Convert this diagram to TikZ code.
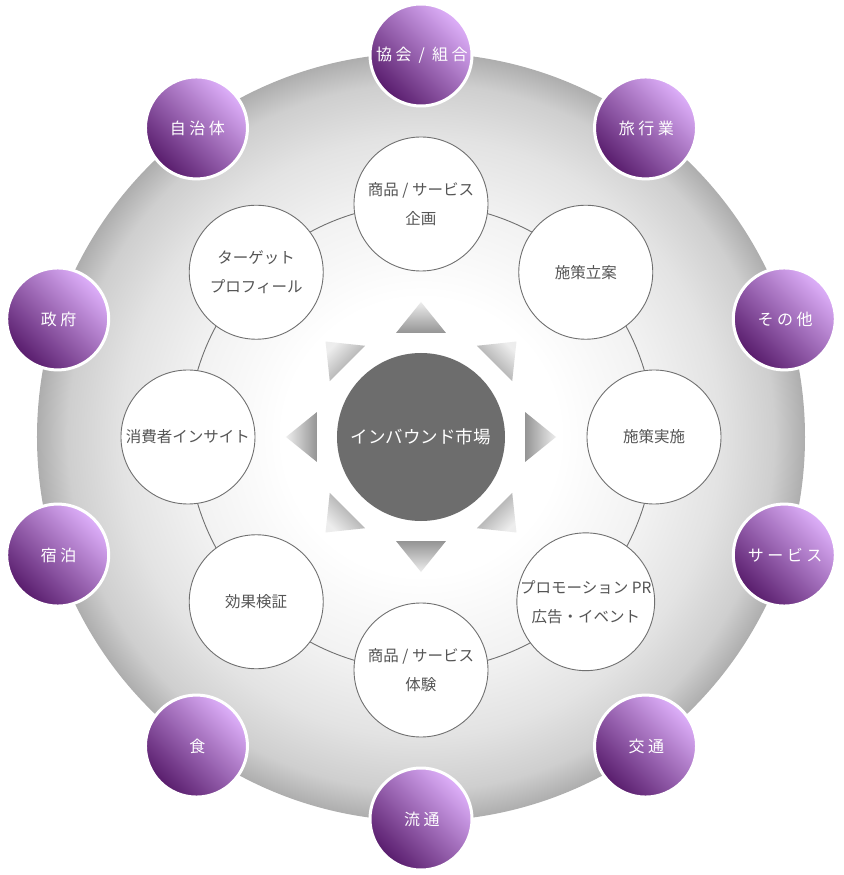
\documentclass[tikz,border=0pt]{standalone}
\usepackage{fontspec}
\usepackage{tikz}
\newfontfamily\jp{Noto Sans CJK JP}
\newfontfamily\jpw[LetterSpace=22]{Noto Sans CJK JP}
\definecolor{ringgray}{RGB}{112,112,112}
\definecolor{txtgray}{RGB}{85,85,85}
\definecolor{mktgray}{RGB}{109,109,109}
\definecolor{purpleL}{RGB}{222,176,250}
\definecolor{purpleD}{RGB}{88,28,108}
\pgfdeclareradialshading{bgshade}{\pgfpoint{0bp}{0bp}}{color(0bp)=(white); color(9bp)=(white);
  color(15bp)=(black!5); color(19.5bp)=(black!11); color(23bp)=(black!19); color(25bp)=(black!32); color(50bp)=(black!32)}

\begin{document}
\begin{tikzpicture}[
  x=1pt, y=1pt,
  sbox/.style={circle, draw=ringgray, line width=0.9pt, fill=white,
               minimum size=134pt, inner sep=0pt, align=center, text=txtgray,
               font=\jp\fontsize{15.5}{29}\selectfont},
  pbox/.style={circle, draw=white, line width=3pt, minimum size=102pt,
               inner sep=0pt, top color=purpleL, bottom color=purpleD,
               shading angle=-45, text=white, font=\jpw\fontsize{16}{20}\selectfont,
               execute at begin node={\kern1.7pt}},
  mkt/.style={circle, fill=mktgray, minimum size=168pt, inner sep=0pt,
              text=white, font=\jp\fontsize{17.5}{20}\selectfont},
  tri/.style={top color=black!7, bottom color=black!42},
]
\useasboundingbox (-421,-438) rectangle (422,437);
\coordinate (ctr) at (0,0);

% background disc and ring
\shade[shading=bgshade] (ctr) circle (384);
\draw[ringgray, line width=0.9pt] (ctr) circle (233);

% arrows round the centre
\foreach \a [evaluate=\a as \b using \a-90] in {0,45,...,315}
  \shade[tri, shading angle=\b] (\a:135) -- (\a+13.5:107) -- (\a-13.5:107) -- cycle;

\node[mkt] (mkt) at (ctr) {インバウンド市場};

\node[sbox] (plan)    at (90:233)   {商品 / サービス\\企画};
\node[sbox] (design)  at (45:233)   {施策立案};
\node[sbox] (run)     at (0:233)    {施策実施};
\node[sbox] (promo)   at (-45:233)  {プロモーション PR\\広告・イベント};
\node[sbox] (exper)   at (-90:233)  {商品 / サービス\\体験};
\node[sbox] (verify)  at (-135:233) {効果検証};
\node[sbox] (insight) at (180:233)  {消費者インサイト};
\node[sbox] (target)  at (135:233)  {ターゲット\\プロフィール};

\node[pbox] (assoc)     at (90:382)   {協会 / 組合};
\node[pbox] (travel)    at (54:382)   {旅行業};
\node[pbox] (other)     at (18:382)   {その他};
\node[pbox] (service)   at (-18:382)  {サービス};
\node[pbox] (transport) at (-54:382)  {交通};
\node[pbox] (distrib)   at (-90:382)  {流通};
\node[pbox] (food)      at (-126:382) {食};
\node[pbox] (lodging)   at (-162:382) {宿泊};
\node[pbox] (govt)      at (162:382)  {政府};
\node[pbox] (local)     at (126:382)  {自治体};

\end{tikzpicture}
\end{document}
